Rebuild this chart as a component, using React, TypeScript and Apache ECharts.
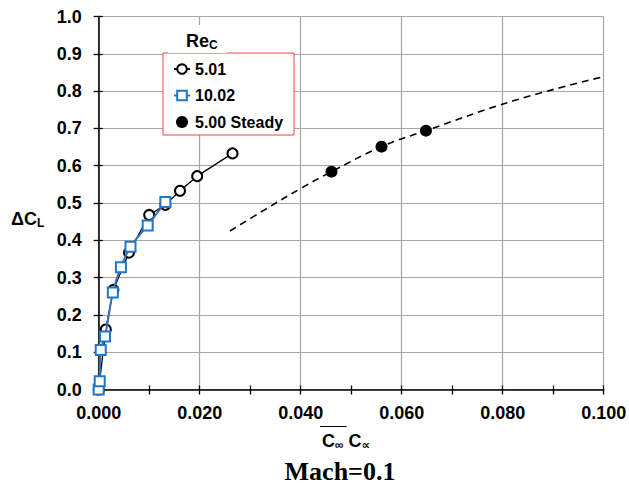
import React, { useEffect, useRef } from "react";
import * as echarts from "echarts";

// Data
const unsteady501X = [0, 0.0014, 0.0029, 0.006, 0.01, 0.0132, 0.0161, 0.0195, 0.0265];
const unsteady501Y = [0, 0.161, 0.267, 0.367, 0.468, 0.495, 0.533, 0.572, 0.633];
const unsteady1002X = [0, 0.0002, 0.0004, 0.00125, 0.0028, 0.0044, 0.0063, 0.0097, 0.0132];
const unsteady1002Y = [0, 0.022, 0.106, 0.142, 0.26, 0.328, 0.383, 0.44, 0.503];
const steadyX = [0.0461, 0.056, 0.0648];
const steadyY = [0.584, 0.651, 0.694];
const fitX = [0.026, 0.033, 0.04, 0.0461, 0.056, 0.0648, 0.0821, 0.1];
const fitY = [0.425, 0.483, 0.539, 0.584, 0.651, 0.694, 0.774, 0.839];
const seriesNames = ["5.01", "10.02", "5.00 Steady"];

const SANS = "Liberation Sans, Arial, DejaVu Sans, sans-serif";
const SERIF = "Liberation Serif, Times New Roman, serif";

const pairs = (xs: number[], ys: number[]) => xs.map((x, i) => [x, ys[i]]);

export default function App() {
  const ref = useRef<HTMLDivElement>(null);
  useEffect(() => {
    if (!ref.current) return;
    const chart = echarts.init(ref.current, null, { renderer: "svg" });
    const axisCommonX = { type: "value", min: 0, max: 0.1, interval: 0.02 };
    const axisCommonY = { type: "value", min: 0, max: 1, interval: 0.1 };
    const subRich = {
      a: { fontFamily: SANS, fontWeight: "bold", fontSize: 18, lineHeight: 20, fill: "#000" },
      b: { fontFamily: SANS, fontWeight: "bold", fontSize: 12, lineHeight: 12, verticalAlign: "bottom", fill: "#000" },
    };
    chart.setOption({
      animation: false,
      backgroundColor: "#ffffff",
      grid: {
        left: 98.7,
        top: 16.5,
        right: 25.3,
        bottom: 97.5,
        containLabel: false,
        outerBoundsMode: "none",
      },
      xAxis: [
        {
          ...axisCommonX,
          position: "bottom",
          axisLine: { show: true, onZero: false, lineStyle: { color: "#000", width: 1.5 } },
          axisTick: { show: true, inside: false, length: 5, lineStyle: { color: "#000", width: 1.3 } },
          minorTick: { show: true, splitNumber: 2, length: 5, lineStyle: { color: "#000", width: 1.3 } },
          axisLabel: {
            margin: 14,
            color: "#000",
            fontFamily: SANS,
            fontWeight: "bold",
            fontSize: 18,
            formatter: (v: number) => v.toFixed(3),
          },
          splitLine: { show: true, lineStyle: { color: "#a6a6a6", width: 1.2 } },
        },
        {
          ...axisCommonX,
          position: "bottom",
          axisLine: { show: false },
          axisTick: { show: true, inside: true, length: 4, lineStyle: { color: "#000", width: 1.3 } },
          minorTick: { show: true, splitNumber: 2, length: 4, lineStyle: { color: "#000", width: 1.3 } },
          axisLabel: { show: false },
          splitLine: { show: false },
        },
      ],
      yAxis: [
        {
          ...axisCommonY,
          position: "left",
          axisLine: { show: true, onZero: false, lineStyle: { color: "#000", width: 1.5 } },
          axisTick: { show: true, inside: false, length: 5, lineStyle: { color: "#000", width: 1.3 } },
          axisLabel: {
            margin: 17,
            color: "#000",
            fontFamily: SANS,
            fontWeight: "bold",
            fontSize: 18,
            formatter: (v: number) => v.toFixed(1),
          },
          splitLine: { show: true, lineStyle: { color: "#a6a6a6", width: 1.2 } },
        },
        {
          ...axisCommonY,
          position: "left",
          axisLine: { show: false },
          axisTick: { show: true, inside: true, length: 4, lineStyle: { color: "#000", width: 1.3 } },
          axisLabel: { show: false },
          splitLine: { show: false },
        },
      ],
      legend: {
        data: seriesNames,
        orient: "vertical",
        left: 163,
        top: 53,
        padding: [8, 11, 5, 10],
        itemGap: 10.5,
        itemWidth: 16,
        itemHeight: 12,
        backgroundColor: "#ffffff",
        borderColor: "#ee4444",
        borderWidth: 1,
        borderRadius: 0,
        selectedMode: false,
        textStyle: {
          color: "#000",
          fontFamily: SANS,
          fontWeight: "bold",
          fontSize: 16,
        },
      },
      series: [
        {
          id: "s501",
          name: seriesNames[0],
          type: "line",
          data: pairs(unsteady501X, unsteady501Y),
          symbol: "emptyCircle",
          symbolSize: 10,
          showSymbol: true,
          showAllSymbol: true,
          itemStyle: { color: "#000", borderColor: "#000", borderWidth: 1.3 },
          lineStyle: { color: "#000", width: 1.3, type: "solid" },
          z: 3,
        },
        {
          id: "s1002",
          name: seriesNames[1],
          type: "line",
          data: pairs(unsteady1002X, unsteady1002Y),
          smooth: 0.3,
          symbol: "emptyRect",
          symbolSize: 10,
          showSymbol: true,
          showAllSymbol: true,
          itemStyle: { color: "#1f77c8", borderColor: "#1f77c8", borderWidth: 1.6 },
          lineStyle: { color: "#3a6fb5", width: 2, type: "solid" },
          z: 4,
        },
        {
          id: "ssteady",
          name: seriesNames[2],
          type: "scatter",
          data: pairs(steadyX, steadyY),
          symbol: "circle",
          symbolSize: 12,
          itemStyle: { color: "#000", opacity: 1 },
          z: 5,
        },
        {
          id: "sfit",
          name: "Steady fit",
          type: "line",
          data: pairs(fitX, fitY),
          smooth: 0.4,
          showSymbol: false,
          symbol: "none",
          itemStyle: { color: "#000" },
          lineStyle: { color: "#000", width: 1.6, type: [7, 5] },
          z: 2,
        },
      ],
      graphic: [
        {
          type: "rect",
          z: 100,
          shape: { x: 168, y: 25, width: 59, height: 28 },
          style: { fill: "#ffffff" },
        },
        {
          type: "text",
          z: 101,
          x: 186,
          y: 41,
          style: { text: "{a|Re}{b|C}", verticalAlign: "middle", rich: subRich },
        },
        {
          type: "text",
          z: 101,
          x: 11,
          y: 219,
          style: { text: "{a|ΔC}{b|L}", verticalAlign: "middle", rich: subRich },
        },
        {
          type: "line",
          z: 101,
          shape: { x1: 320, y1: 426.5, x2: 346.5, y2: 426.5 },
          style: { stroke: "#000", lineWidth: 1 },
        },
        {
          type: "text",
          z: 101,
          x: 322,
          y: 441,
          style: { text: "{a|C}{b|∞}{a| C}{b|∝}", verticalAlign: "middle", rich: subRich },
        },
        {
          type: "text",
          z: 101,
          x: 340,
          y: 471,
          style: {
            text: "Mach=0.1",
            align: "center",
            verticalAlign: "middle",
            fontFamily: SERIF,
            fontWeight: "bold",
            fontSize: 26,
            fill: "#000",
          },
        },
      ],
    });
    return () => chart.dispose();
  }, []);
  return <div ref={ref} style={{ width: 629, height: 487, position: "absolute", left: 0, top: 0 }} />;
}
